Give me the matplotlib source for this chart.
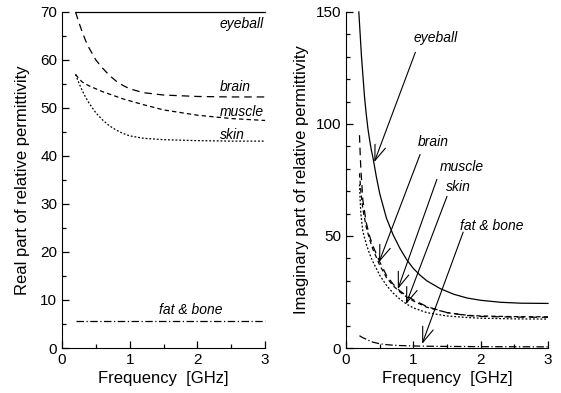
import matplotlib
matplotlib.use('Agg')
import matplotlib.pyplot as plt
from matplotlib.ticker import MultipleLocator

plt.rcParams['font.family'] = ['Liberation Sans', 'DejaVu Sans']

# real part of relative permittivity
f_real = [0.2, 0.25, 0.3, 0.35, 0.4, 0.5, 0.6, 0.7, 0.8, 0.9, 1.0, 1.2, 1.5, 2.0, 2.5, 3.0]
real_eyeball = [70, 70, 70, 70, 70, 70, 70, 70, 70, 70, 70, 70, 70, 70, 70, 70]
real_brain = [70, 67.8, 65.8, 64.0, 62.5, 60.0, 58.3, 56.8, 55.6, 54.7, 54.0, 53.2, 52.7, 52.4, 52.3, 52.3]
real_muscle = [57, 56.1, 55.4, 55.0, 54.6, 54.0, 53.4, 52.9, 52.4, 51.9, 51.5, 50.7, 49.6, 48.5, 47.8, 47.4]
real_skin = [57, 55.2, 53.6, 52.2, 51.0, 49.0, 47.5, 46.3, 45.4, 44.7, 44.2, 43.7, 43.4, 43.2, 43.1, 43.1]
real_fat = [5.7, 5.7, 5.7, 5.7, 5.7, 5.7, 5.7, 5.7, 5.7, 5.7, 5.7, 5.7, 5.7, 5.7, 5.7, 5.7]

# imaginary part of relative permittivity
f_eye = [0.19, 0.21, 0.23, 0.25, 0.275, 0.3, 0.325, 0.35, 0.375, 0.4, 0.45, 0.5, 0.6, 0.7,
         0.8, 0.9, 1.0, 1.1, 1.2, 1.4, 1.6, 1.8, 2.0, 2.3, 2.6, 3.0]
imag_eyeball = [150, 140, 130, 122, 112, 104.5, 98, 93, 88.5, 85, 76.5, 69, 58, 50.5,
                44.5, 39.5, 35.5, 32.5, 30, 26.5, 24, 22.3, 21.3, 20.4, 20.0, 19.9]
f_imag = [0.2, 0.21, 0.22, 0.25, 0.3, 0.35, 0.4, 0.5, 0.6, 0.7, 0.8, 0.9, 1.0, 1.2, 1.5,
          1.8, 2.0, 2.5, 3.0]
imag_brain = [95, 87, 80, 66, 56, 50, 45.5, 38.5, 32.5, 28.5, 25.5, 23.3, 21.5, 18.5, 15.8,
              14.5, 14.1, 13.8, 13.7]
imag_muscle = [78, 74, 70, 62, 54, 48.5, 44, 37, 31.5, 27.8, 25, 22.8, 21, 18.2, 15.8,
               14.6, 14.3, 14.0, 13.9]
imag_skin = [73, 66, 60, 52, 46.5, 42, 38.5, 32.5, 28, 24.5, 21.8, 19.6, 17.9, 15.8, 14.3,
             13.6, 13.3, 13.0, 12.9]
imag_fat = [5.5, 5.3, 5.1, 4.6, 3.9, 3.2, 2.6, 1.9, 1.5, 1.25, 1.1, 1.0, 0.9, 0.8, 0.7,
            0.65, 0.6, 0.55, 0.5]

tissues = ['eyeball', 'brain', 'muscle', 'skin', 'fat & bone']
dash_styles = [None, (6, 4), (3.5, 2.5), (1.5, 1.5), (6, 2, 1, 2)]

fig = plt.figure(figsize=(5.61, 3.93), dpi=100)
ax1 = fig.add_axes([0.1105, 0.1145, 0.362, 0.855])
ax2 = fig.add_axes([0.6168, 0.1145, 0.360, 0.855])

lw = 0.9
real_sets = [(f_real, real_eyeball), (f_real, real_brain), (f_real, real_muscle),
             (f_real, real_skin), (f_real, real_fat)]
imag_sets = [(f_eye, imag_eyeball), (f_imag, imag_brain), (f_imag, imag_muscle),
             (f_imag, imag_skin), (f_imag, imag_fat)]

for (x, y), d in zip(real_sets, dash_styles):
    line, = ax1.plot(x, y, color='black', lw=lw, clip_on=False)
    if d is not None:
        line.set_dashes(d)
for (x, y), d in zip(imag_sets, dash_styles):
    line, = ax2.plot(x, y, color='black', lw=lw, clip_on=False)
    if d is not None:
        line.set_dashes(d)

# labels on the left panel
lab = dict(fontsize=10, style='italic', ha='left', va='center')
ax1.text(2.33, 67.6, 'eyeball', **lab)
ax1.text(2.33, 54.3, 'brain', **lab)
ax1.text(2.33, 49.2, 'muscle', **lab)
ax1.text(2.33, 44.4, 'skin', **lab)
ax1.text(1.43, 7.9, 'fat & bone', **lab)

# labels with arrows on the right panel
text_pos = [(1.0, 138.5), (1.06, 91.8), (1.39, 80.6), (1.48, 71.7), (1.69, 54.3)]
tails = [(1.03, 132), (1.10, 86.4), (1.35, 75.3), (1.50, 67.7), (1.74, 51.7)]
tips = [(0.42, 83), (0.49, 38.3), (0.77, 26.3), (0.89, 19.5), (1.13, 1.8)]
for name, tp, tl, tip in zip(tissues, text_pos, tails, tips):
    ax2.text(tp[0], tp[1], name, **lab)
    ax2.annotate('', xy=tip, xytext=tl,
                 arrowprops=dict(arrowstyle='->,head_length=1.1,head_width=0.4',
                                 mutation_scale=10, lw=0.8, color='black',
                                 shrinkA=0, shrinkB=0))

for ax in (ax1, ax2):
    ax.set_xlim(0, 3)
    ax.spines['top'].set_visible(False)
    ax.spines['right'].set_visible(False)
    ax.xaxis.set_major_locator(MultipleLocator(1))
    ax.xaxis.set_minor_locator(MultipleLocator(0.5))
    ax.tick_params(which='major', direction='in', length=5, width=0.9, labelsize=11)
    ax.tick_params(which='minor', direction='in', length=3, width=0.9)
    ax.set_xlabel('Frequency  [GHz]', fontsize=12, labelpad=3)

ax1.set_ylim(0, 70)
ax1.yaxis.set_major_locator(MultipleLocator(10))
ax1.yaxis.set_minor_locator(MultipleLocator(5))
ax1.set_ylabel('Real part of relative permittivity', fontsize=12, labelpad=7)

ax2.set_ylim(0, 150)
ax2.yaxis.set_major_locator(MultipleLocator(50))
ax2.yaxis.set_minor_locator(MultipleLocator(10))
ax2.set_ylabel('Imaginary part of relative permittivity', fontsize=12, labelpad=5)

fig.savefig('out.png', dpi=100)
